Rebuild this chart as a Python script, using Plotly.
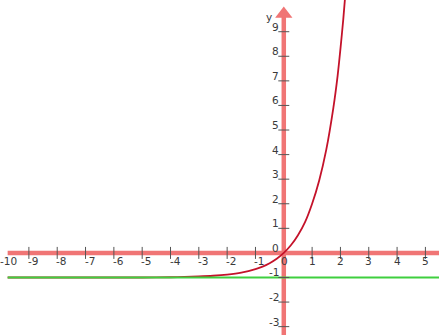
import plotly.graph_objects as go

# ---- data ----
x_ticks = [-10, -9, -8, -7, -6, -5, -4, -3, -2, -1, 0, 1, 2, 3, 4, 5]
x_tick_labels = ["-10", "-9", "-8", "-7", "-6", "-5", "-4", "-3", "-2", "-1", "0", "1", "2", "3", "4", "5"]
y_ticks = [-3, -2, -1, 0, 1, 2, 3, 4, 5, 6, 7, 8, 9]
y_tick_labels = ["-3", "-2", "-1", "0", "1", "2", "3", "4", "5", "6", "7", "8", "9"]

curve_x = [-9.75, -8, -7, -6, -5, -4, -3.5, -3, -2.5, -2, -1.5, -1, -0.75, -0.5, -0.25, 0,
           0.25, 0.5, 0.75, 1, 1.25, 1.5, 1.75, 1.9, 2.0, 2.1, 2.2]
curve_y = [-1.0, -1.0, -1.0, -1.0, -1.0, -0.99, -0.98, -0.96, -0.93, -0.88, -0.8, -0.66, -0.56, -0.42, -0.24, 0.0,
           0.31, 0.72, 1.25, 2.0, 2.95, 4.2, 5.9, 7.2, 8.3, 9.5, 10.9]
asymptote_y = -1
axis_label = "y"

X_RANGE = [-10.02, 5.48]
Y_RANGE = [-3.34, 10.29]
LINE_START = -9.75

W, H = 439, 335
px_x = W / (X_RANGE[1] - X_RANGE[0])
px_y = H / (Y_RANGE[1] - Y_RANGE[0])

PINK = "#f07575"
TICK = "#555555"
TXT = "#3a3a3a"
FONT = dict(family="DejaVu Sans", size=10.5, color=TXT)

fig = go.Figure()

# curve (under the green asymptote)
fig.add_trace(go.Scatter(x=curve_x, y=curve_y, mode="lines",
                         line=dict(color="#c4122a", width=1.8, shape="spline", smoothing=0.6),
                         hoverinfo="skip"))
# asymptote
fig.add_trace(go.Scatter(x=[LINE_START, X_RANGE[1]], y=[asymptote_y, asymptote_y], mode="lines",
                         line=dict(color="#3fcf3f", width=2), hoverinfo="skip"))
# arrow head of the y axis
arrow_y = Y_RANGE[1] - 14 / px_y
fig.add_trace(go.Scatter(x=[0], y=[arrow_y], mode="markers",
                         marker=dict(symbol="triangle-up", size=15, color=PINK, line=dict(width=0)),
                         hoverinfo="skip"))

shapes = []
# axes
shapes.append(dict(type="line", x0=LINE_START, x1=X_RANGE[1], y0=0, y1=0,
                   line=dict(color=PINK, width=4.5), layer="below"))
shapes.append(dict(type="line", x0=0, x1=0, y0=Y_RANGE[0], y1=arrow_y,
                   line=dict(color=PINK, width=4.5), layer="below"))
# ticks
hx = 6 / px_y
for t in x_ticks:
    if t == 0 or t < LINE_START:
        continue
    shapes.append(dict(type="line", x0=t, x1=t, y0=-hx, y1=hx,
                       line=dict(color=TICK, width=1), layer="above"))
hy = 5.5 / px_x
for t in y_ticks:
    if t == 0:
        continue
    shapes.append(dict(type="line", x0=-hy, x1=hy, y0=t, y1=t,
                       line=dict(color=TICK, width=1), layer="above"))

annotations = []
for t, lab in zip(x_ticks, x_tick_labels):
    if t < 0:
        annotations.append(dict(x=t, y=0, text=lab, showarrow=False, xanchor="left", yanchor="top",
                                xshift=-2, yshift=-1, font=FONT, borderpad=0))
    else:
        annotations.append(dict(x=t, y=0, text=lab, showarrow=False, xanchor="center", yanchor="top",
                                xshift=1 if t == 0 else 0, yshift=-1, font=FONT, borderpad=0))
for t, lab in zip(y_ticks, y_tick_labels):
    annotations.append(dict(x=0, y=t, text=lab, showarrow=False, xanchor="right", yanchor="bottom",
                            xshift=-4, yshift=-2, font=FONT, borderpad=0))
annotations.append(dict(x=0, y=y_ticks[-1], text=axis_label, showarrow=False, xanchor="right",
                        yanchor="bottom", xshift=-11, yshift=8, font=FONT, borderpad=0))

fig.update_layout(
    width=W, height=H,
    margin=dict(l=0, r=0, t=0, b=0),
    paper_bgcolor="white", plot_bgcolor="white",
    showlegend=False,
    xaxis=dict(range=X_RANGE, visible=False, fixedrange=True),
    yaxis=dict(range=Y_RANGE, visible=False, fixedrange=True),
    shapes=shapes, annotations=annotations,
)

fig.write_html("out.html", config={"displayModeBar": False},
               post_script="document.body.style.margin='0';document.body.style.overflow='hidden';")
